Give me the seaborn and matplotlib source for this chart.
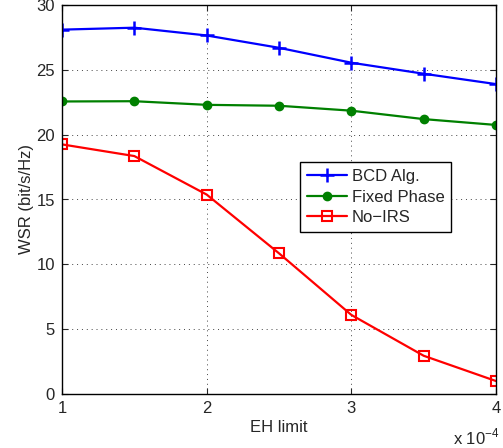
import matplotlib
matplotlib.use("Agg")
import matplotlib.pyplot as plt
import seaborn as sns
import pandas as pd

eh_limit = [1.0, 1.5, 2.0, 2.5, 3.0, 3.5, 4.0]  # x 1e-4
bcd = [28.1, 28.25, 27.65, 26.7, 25.55, 24.7, 23.9]
fixed_phase = [22.56, 22.58, 22.3, 22.23, 21.85, 21.2, 20.75]
no_irs = [19.25, 18.35, 15.38, 10.85, 6.1, 2.95, 1.0]
series_names = ["BCD Alg.", "Fixed Phase", "No\u2212IRS"]
x_ticks = [1, 2, 3, 4]
y_ticks = [0, 5, 10, 15, 20, 25, 30]

sns.set_style("ticks")
plt.rcParams['font.family'] = ['Liberation Sans', 'DejaVu Sans']
plt.rcParams['mathtext.fontset'] = 'custom'
plt.rcParams['mathtext.rm'] = 'Liberation Sans'

rows = []
for name, vals in zip(series_names, [bcd, fixed_phase, no_irs]):
    for x, v in zip(eh_limit, vals):
        rows.append({"EH": x, "WSR": v, "Scheme": name})
df = pd.DataFrame(rows)

fig = plt.figure(figsize=(5.03, 4.48), dpi=100)
ax = fig.add_axes([62/503, 1-394/448, (496-62)/503, (394-5)/448])

palette = {series_names[0]: "#0000ff", series_names[1]: "#008000", series_names[2]: "#ff0000"}

styles = {
    series_names[0]: dict(marker="+", markersize=10, markeredgewidth=1.8),
    series_names[1]: dict(marker="o", markersize=6, markeredgewidth=1.0),
    series_names[2]: dict(marker="s", markersize=7.5, markeredgewidth=1.5, markerfacecolor="none"),
}
for name in series_names:
    sub = df[df["Scheme"] == name]
    sns.lineplot(data=sub, x="EH", y="WSR", ax=ax, color=palette[name],
                 markeredgecolor=palette[name],
                 linewidth=1.6, label=name, **styles[name])

ax.set_xlim(1, 4)
ax.set_ylim(0, 30)
ax.set_xticks(x_ticks)
ax.set_yticks(y_ticks)
ax.set_xticklabels([str(t) for t in x_ticks])
ax.set_yticklabels([str(t) for t in y_ticks])
ax.tick_params(direction="in", top=True, right=True, labelsize=12, length=4, width=0.8, pad=5)
ax.grid(True, linestyle=(0, (1, 4)), color="#444444", linewidth=0.7)
for s in ax.spines.values():
    s.set_linewidth(1.0)
    s.set_color("black")

ax.set_xlabel("EH limit", fontsize=12, labelpad=3)
ax.set_ylabel("WSR (bit/s/Hz)", fontsize=12, labelpad=2)
fig.text(476/503, 1-437/448, "x 10$^{-4}$", fontsize=12, ha="center", va="center")

leg = ax.legend(loc="upper left", bbox_to_anchor=((300-62)/434, 1-(162-5)/389),
                fontsize=12, frameon=True, fancybox=False, framealpha=1,
                edgecolor="black", handlelength=2.4, borderpad=0.4,
                labelspacing=0.35, handletextpad=0.3, borderaxespad=0)
leg.get_frame().set_linewidth(1.0)

fig.savefig("out.png", dpi=100)
